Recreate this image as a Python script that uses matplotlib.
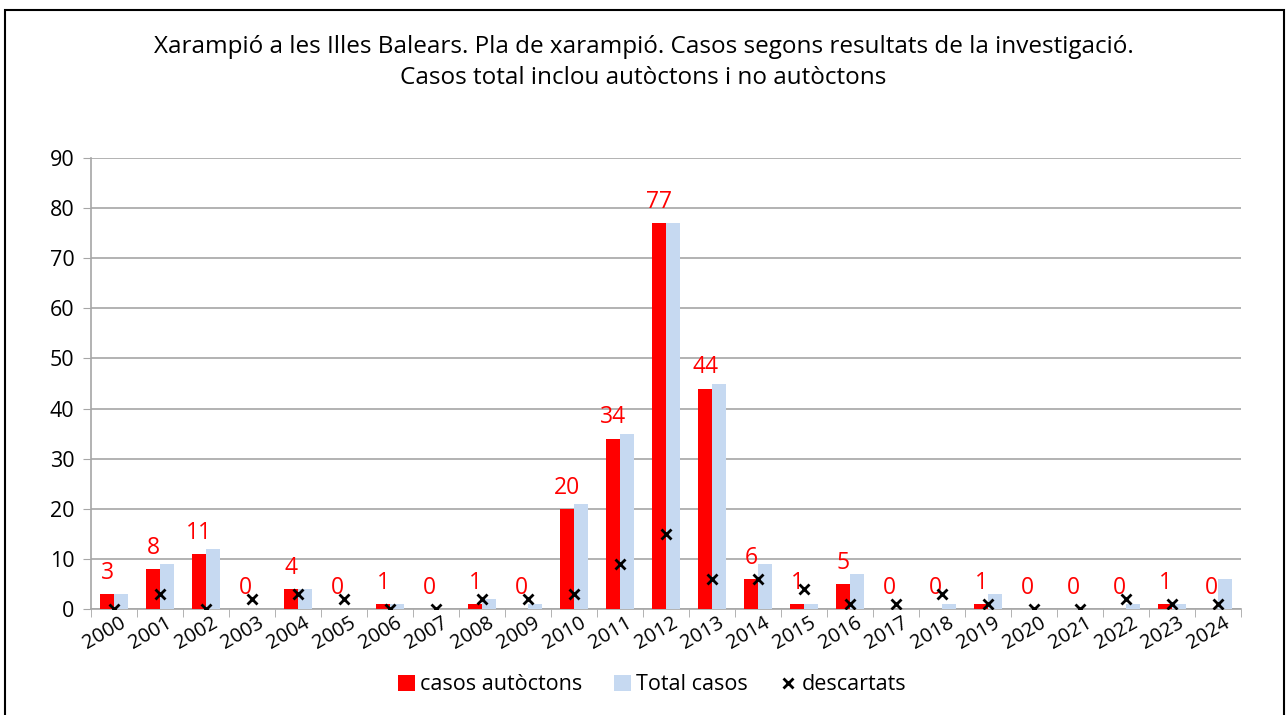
import numpy as np
import matplotlib.pyplot as plt
from matplotlib.patches import Rectangle

plt.rcParams['font.family'] = ['Open Sans', 'DejaVu Sans']

years = [str(y) for y in range(2000, 2025)]
autoctons = [3, 8, 11, 0, 4, 0, 1, 0, 1, 0, 20, 34, 77, 44, 6, 1, 5, 0, 0, 1, 0, 0, 0, 1, 0]
total = [3, 9, 12, 0, 4, 0, 1, 0, 2, 1, 21, 35, 77, 45, 9, 1, 7, 0, 1, 3, 0, 0, 1, 1, 6]
descartats = [0, 3, 0, 2, 3, 2, 0, 0, 2, 2, 3, 9, 15, 6, 6, 4, 1, 1, 3, 1, 0, 0, 2, 1, 1]

W, H = 1287, 715
fig = plt.figure(figsize=(W / 100, H / 100), dpi=100)
ax = fig.add_axes([91 / W, 1 - 609 / H, (1241 - 91) / W, (609 - 158) / H])

x = np.arange(len(years))
bw = 0.3
b1 = ax.bar(x - bw / 2, autoctons, bw, color='#ff0000', label='casos autòctons', zorder=3)
b2 = ax.bar(x + bw / 2, total, bw, color='#c6d9f1', label='Total casos', zorder=3)
m, = ax.plot(x, descartats, linestyle='none', marker='x', markersize=7,
             markeredgewidth=2, color='black', label='descartats', zorder=4)

for xi, v in zip(x, autoctons):
    ax.annotate(str(v), (xi - bw / 2, v), xytext=(0, 11), textcoords='offset points',
                ha='center', va='baseline', color='#ff0000', fontsize=16.5)

ax.set_xlim(-0.5, len(years) - 0.5)
ax.set_ylim(0, 90)
ax.set_yticks(range(0, 91, 10))
ax.yaxis.grid(True, color='#a6a6a6', linewidth=1.2, zorder=0)
ax.tick_params(axis='y', labelsize=15.5, length=6, color='#a6a6a6', pad=6)

ax.set_xticks(x + 0.12)
ax.set_xticklabels(years, rotation=30, ha='right', rotation_mode='anchor', fontsize=14.5)
ax.tick_params(axis='x', which='major', length=0, pad=3)
ax.set_xticks(np.arange(-0.5, len(years)), minor=True)
ax.tick_params(axis='x', which='minor', length=6, color='#a6a6a6')

for s in ['top', 'right']:
    ax.spines[s].set_visible(False)
for s in ['left', 'bottom']:
    ax.spines[s].set_color('#a6a6a6')
    ax.spines[s].set_linewidth(1.2)

fig.text(0.5, 1 - 47 / H, 'Xarampió a les Illes Balears. Pla de xarampió. Casos segons resultats de la investigació.',
         ha='center', va='center', fontsize=17.5)
fig.text(0.5, 1 - 78 / H, 'Casos total inclou autòctons i no autòctons',
         ha='center', va='center', fontsize=17.5)

fig.legend([b1, b2, m], ['casos autòctons', 'Total casos', 'descartats'],
           loc='center', bbox_to_anchor=(652 / W, 1 - 685 / H), ncol=3, frameon=False,
           fontsize=15.5, handlelength=0.8, handleheight=0.8, handletextpad=0.2, columnspacing=1.5)

fig.patches.append(Rectangle((5 / W, -0.01), 1279 / W, 1 - 10 / H + 0.01, transform=fig.transFigure,
                             fill=False, edgecolor='black', linewidth=1.5))

fig.savefig('out.png', dpi=100)
